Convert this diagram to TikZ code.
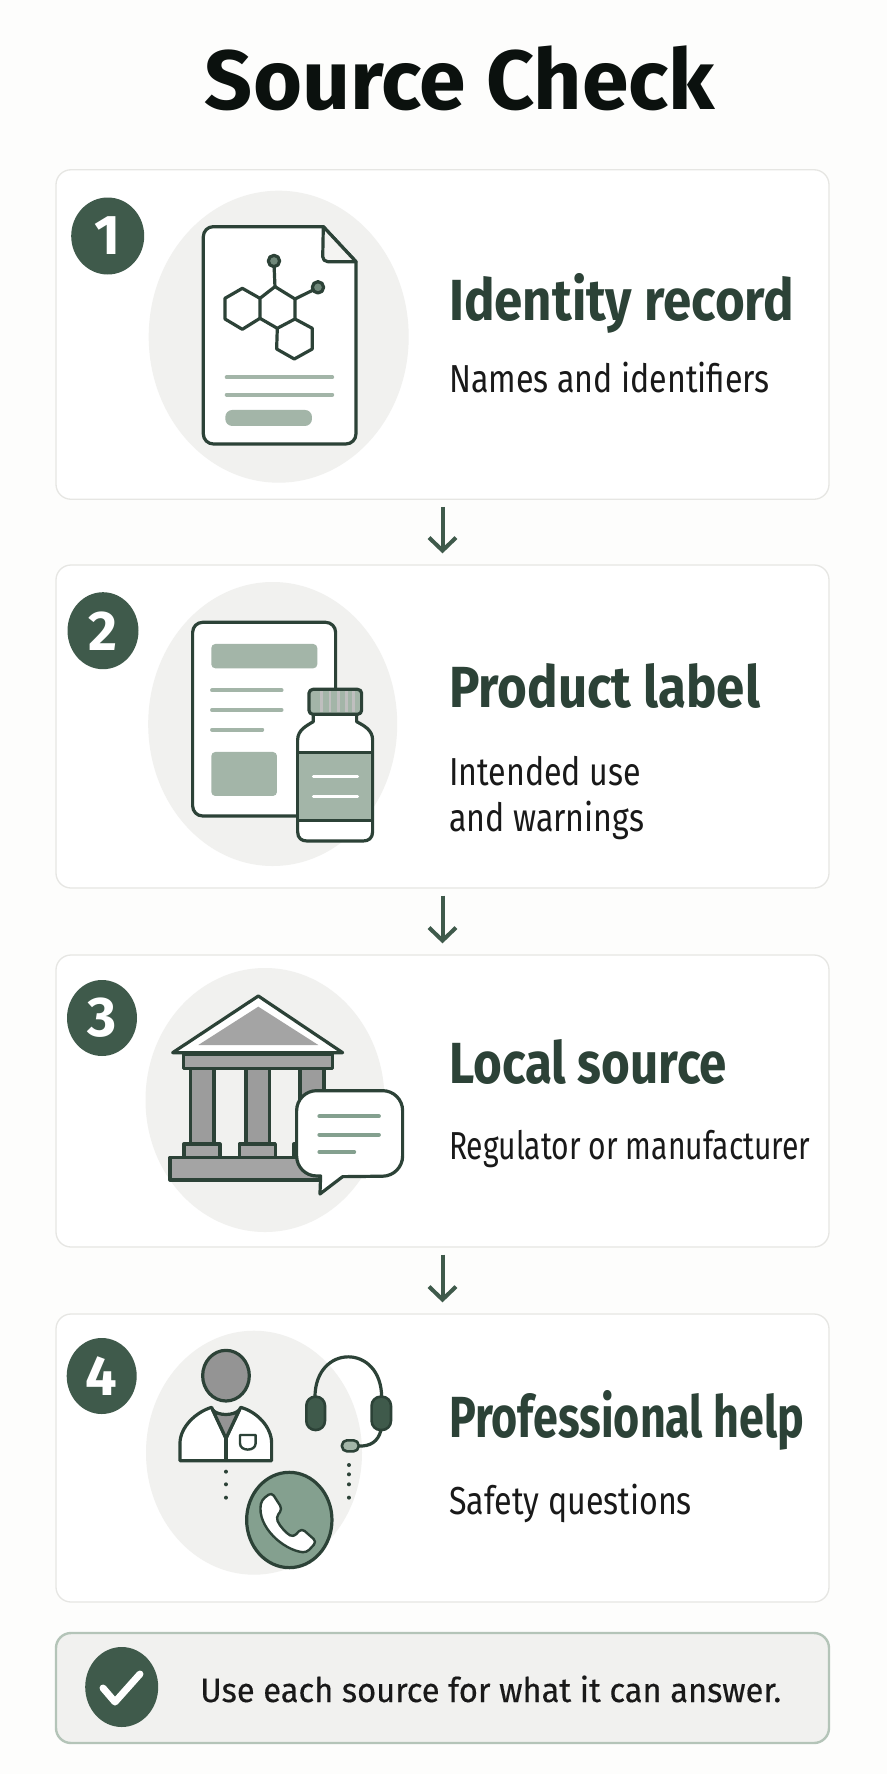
\documentclass[tikz,border=0pt]{standalone}
\usepackage{fontspec}
\usepackage{graphicx}
\usetikzlibrary{arrows.meta,shapes.geometric}
\newfontfamily\titlefont{Fira Sans}
\newfontfamily\headfont[FakeStretch=0.88]{Fira Sans}
\newfontfamily\subfont[FakeStretch=0.825]{Fira Sans}
\newfontfamily\notefont{Fira Sans}
\newfontfamily\footfont[FakeStretch=0.96,FakeBold=0.4]{Fira Sans}
\newcommand{\squeeze}[2]{\scalebox{#1}[1]{#2}}
\definecolor{bgpage}{HTML}{FDFDFC}
\definecolor{cardline}{HTML}{E6E6E3}
\definecolor{barline}{HTML}{B4C4B8}
\definecolor{blob}{HTML}{F1F1EF}
\definecolor{forest}{HTML}{3F5A4B}
\definecolor{ink}{HTML}{2C4237}
\definecolor{sage}{HTML}{A3B5A8}
\definecolor{midgreen}{HTML}{84A08F}
\definecolor{stone}{HTML}{A4A4A4}
\tikzset{
	card/.style={draw=cardline,line width=1.3pt,fill=white,rounded corners=15pt,minimum width=773pt,inner sep=0pt},
	badge/.style={ellipse,fill=forest,text=white,inner sep=0pt,font=\notefont\bfseries\fontsize{56}{56}\selectfont},
	heading/.style={anchor=base west,inner sep=0pt,text=ink,font=\headfont\bfseries\fontsize{58}{58}\selectfont},
	subtext/.style={anchor=base west,inner sep=0pt,text=black!90,font=\subfont\fontsize{39}{46}\selectfont,align=left},
	flow/.style={->,>={Straight Barb[length=13pt,width=27pt]},forest,line width=4pt,shorten <=7pt,shorten >=11pt},
	iconline/.style={draw=ink,line width=3.2pt,line join=round},
	softline/.style={draw=sage,line width=3.8pt,line cap=round},
}
\begin{document}
\begin{tikzpicture}[x=1pt,y=-1pt]
\useasboundingbox (0,0) rectangle (887,1774);
\fill[bgpage] (0,0) rectangle (887,1774);
% title
	\node[anchor=base,inner sep=0pt,text=black!75!ink,font=\titlefont\bfseries\fontsize{84}{84}\selectfont] (title) at (460,110) {Source Check};
% cards
	\node[card,minimum height=329.5pt] (card1) at (442.5,334.5) {};
	\node[card,minimum height=323pt] (card2) at (442.5,726.5) {};
	\node[card,minimum height=292pt] (card3) at (442.5,1101) {};
	\node[card,minimum height=288pt] (card4) at (442.5,1458) {};
	\node[card,draw=barline,fill=blob,line width=2.4pt,minimum height=110pt] (bar) at (442.5,1688) {};
% arrows
	\draw[flow] (card1) -- (card2);
	\draw[flow] (card2) -- (card3);
	\draw[flow] (card3) -- (card4);
% blobs
	\fill[blob] (278.7,336.7) ellipse (130 and 146);
	\fill[blob] (272.7,724) ellipse (124.5 and 142);
	\fill[blob] (265,1100) ellipse (119.5 and 132);
	\fill[blob] (254,1452.7) ellipse (108 and 122);
% badges
	\node[badge,minimum width=73pt,minimum height=77pt] (badge1) at (107.7,236) {1};
	\node[badge,minimum width=71pt,minimum height=77pt] (badge2) at (103,630.7) {2};
	\node[badge,minimum width=70pt,minimum height=76pt] (badge3) at (102,1018) {3};
	\node[badge,minimum width=70pt,minimum height=76pt] (badge4) at (101.7,1376) {4};
% text
	\node[heading] (head1) at (449,320) {Identity record};
	\node[subtext] (sub1) at (449,392) {Names and identifiers};
	\node[heading] (head2) at (449,707) {Product label};
	\node[subtext] (sub2) at (449,831) {Intended use\\and warnings};
	\node[heading] (head3) at (449,1083) {\squeeze{.966}{Local source}};
	\node[subtext] (sub3) at (449,1159) {\squeeze{.935}{Regulator or manufacturer}};
	\node[heading] (head4) at (449,1437) {\squeeze{.878}{Professional help}};
	\node[subtext] (sub4) at (449,1514) {Safety questions};
% document with molecule
\begin{scope}[shift={(0,150)},x=.3333pt,y=-.3333pt]
	\draw[iconline,fill=white] (970,230) [rounded corners=10pt] -- (610,230) -- (610,882) -- (1068,882) [sharp corners] -- (1068,335) -- cycle;
	\draw[iconline,fill=blob!80!white] (970,230) [rounded corners=5pt] -- (968,335) [sharp corners] -- (1068,335) -- cycle;
	\draw[iconline] (825,410) -- (885,447) -- (885,507) -- (832,535) -- (780,505) -- (780,445) -- cycle;
	\draw[iconline] (780,445) -- (727,415) -- (675,445) -- (675,507) -- (727,538) -- (780,505);
	\draw[iconline] (885,507) -- (937,535) -- (937,597) -- (883,627) -- (830,597) -- (832,535);
	\draw[iconline] (825,410) -- (822,340);
	\draw[iconline] (885,447) -- (950,415);
	\draw[iconline,fill=midgreen!85!black] (822,333) circle (17);
	\draw[iconline,fill=midgreen!85!black] (954,412) circle (17);
	\draw[softline] (680,682) -- (997,682);
	\draw[softline] (680,734) -- (997,734);
	\fill[sage,rounded corners=7pt] (676,780) rectangle (936,828);
\end{scope}
% leaflet and bottle
\begin{scope}[shift={(0,560)},x=.3333pt,y=-.3333pt]
	\draw[iconline,fill=white,rounded corners=10pt] (578,187) rectangle (1007,768);
	\fill[sage,rounded corners=4pt] (634,252) rectangle (952,325);
	\draw[softline] (636,391) -- (845,391);
	\draw[softline] (636,450) -- (845,450);
	\draw[softline] (636,509) -- (787,509);
	\fill[sage,rounded corners=4pt] (634,576) rectangle (831,708);
	\draw[iconline,fill=white] (893,815) -- (893,540) .. controls (893,510) and (920,497) .. (940,485) -- (940,463) -- (1070,463) -- (1070,485) .. controls (1092,497) and (1118,510) .. (1118,540) -- (1118,815) .. controls (1118,835) and (1105,843) .. (1090,843) -- (921,843) .. controls (905,843) and (893,835) .. (893,815) -- cycle;
	\draw[iconline,fill=sage] (893,578) rectangle (1118,782);
	\draw[white,line width=3pt,line cap=round] (940,649) -- (1073,649);
	\draw[white,line width=3pt,line cap=round] (940,710) -- (1073,710);
	\draw[iconline,fill=sage,rounded corners=4pt] (927,388) rectangle (1085,463);
	\foreach \sx in {965,990,1015,1040,1060}
		\draw[stone!70,line width=2.5pt] (\sx,394) -- (\sx,457);
\end{scope}
% temple and speech bubble
\begin{scope}[shift={(0,950)},x=.3333pt,y=-.3333pt]
	\draw[iconline,fill=white] (775,138) -- (518,308) -- (1028,308) -- cycle;
	\fill[stone] (775,170) -- (595,285) -- (955,285) -- cycle;
	\draw[iconline,fill=stone] (550,312) rectangle (998,355);
	\draw[iconline,fill=stone!95!black] (572,355) rectangle (642,582);
	\draw[iconline,fill=stone!95!black] (738,355) rectangle (808,582);
	\draw[iconline,fill=stone!95!black] (900,355) rectangle (972,582);
	\draw[iconline,fill=stone] (552,582) rectangle (660,622);
	\draw[iconline,fill=stone] (718,582) rectangle (826,622);
	\draw[iconline,fill=stone] (882,582) rectangle (960,622);
	\draw[iconline,fill=stone] (510,622) rectangle (960,690);
	\draw[iconline,fill=white] (962,678) [rounded corners=20pt] -- (890,678) -- (890,422) -- (1208,422) -- (1208,678) [sharp corners] -- (1028,680) -- (960,732) -- cycle;
	\draw[softline,draw=midgreen] (958,499) -- (1137,499);
	\draw[softline,draw=midgreen] (958,554) -- (1137,554);
	\draw[softline,draw=midgreen] (958,606) -- (1063,606);
\end{scope}
% person, headset and phone
\begin{scope}[shift={(0,1310)},x=.3333pt,y=-.3333pt]
	\draw[iconline,fill=stone!90!black] (678,197) ellipse (70 and 76);
	\draw[iconline,fill=white] (540,452) -- (540,400) .. controls (540,350) and (590,305) .. (635,292) -- (678,385) -- (722,292) .. controls (770,305) and (815,350) .. (815,400) -- (815,452) -- cycle;
	\draw[iconline,fill=stone!90!black] (638,300) .. controls (655,318) and (700,318) .. (718,300) -- (678,385) -- cycle;
	\draw[iconline] (678,385) -- (678,452);
	\draw[iconline,line width=2.4pt] (720,375) -- (767,375) -- (767,400) .. controls (767,425) and (720,425) .. (720,400) -- cycle;
	\foreach \dy in {485,523,563}
		\fill[ink] (678,\dy) circle (6);
	\foreach \dy in {465,493,523,563}
		\fill[ink] (1047,\dy) circle (6);
	\draw[iconline] (945,262) .. controls (945,100) and (1145,100) .. (1145,262);
	\draw[iconline,line width=2.6pt,fill=forest,rounded corners=9pt] (919,260) rectangle (975,360);
	\draw[iconline,line width=2.6pt,fill=forest,rounded corners=9pt] (1115,260) rectangle (1173,360);
	\draw[iconline] (1143,360) .. controls (1135,395) and (1110,410) .. (1075,408);
	\draw[iconline,line width=2.6pt,fill=sage,rounded corners=5pt] (1026,391) rectangle (1076,424);
	\draw[iconline,fill=midgreen] (868,630) ellipse (128 and 143);
	\draw[iconline,fill=white,line width=2.4pt,rounded corners=4pt] (815,547) -- (847,597) -- (828,622) .. controls (840,650) and (860,670) .. (880,682) -- (905,655) -- (950,695) -- (920,728) .. controls (850,720) and (770,650) .. (785,570) -- cycle;
\end{scope}
% footer
	\node[ellipse,fill=forest,minimum width=73pt,minimum height=80pt,inner sep=0pt] (tick) at (121.7,1687) {};
	\draw[white,line width=7pt,line join=round,line cap=round] (103,1688) -- (115,1702) -- (140,1674);
	\node[anchor=base west,inner sep=0pt,text=black!90,font=\footfont\fontsize{34}{34}\selectfont] (note) at (200,1702) {Use each source for what it can answer.};
\end{tikzpicture}
\end{document}
